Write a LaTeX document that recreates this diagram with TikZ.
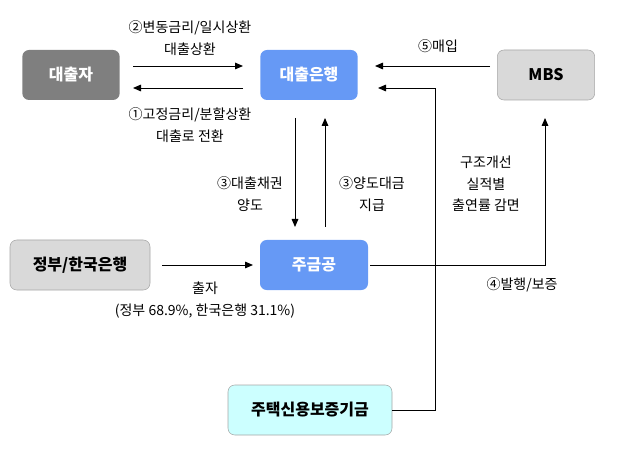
\documentclass[tikz,border=0pt]{standalone}
\usepackage{fontspec}
\setmainfont{Noto Sans CJK KR}
\usetikzlibrary{arrows.meta}
\definecolor{darkbox}{HTML}{7F7F7F}
\definecolor{bluebox}{HTML}{6699F5}
\definecolor{greybox}{HTML}{D9D9D9}
\definecolor{cyanbox}{HTML}{CCFFFF}
\tikzset{
  box/.style={rounded corners=5pt, minimum height=37.5pt, font=\bfseries\fontsize{12}{14}\selectfont, inner sep=2pt},
  lbl/.style={font=\fontsize{10.5}{16}\selectfont, align=center},
  flow/.style={-{Triangle[length=6pt,width=5pt]}, line width=0.7pt},
}
\begin{document}
\begin{tikzpicture}[x=0.75pt,y=-0.75pt]
  \useasboundingbox (0,0) rectangle (620,459);
	\node[box, fill=darkbox, text=white, minimum width=73pt]	(borrower)	at (71,75)	{대출자};
	\node[box, fill=bluebox, text=white, minimum width=73pt]	(bank)	at (309,75)	{대출은행};
	\node[box, fill=greybox, draw=gray!70, minimum width=73pt]	(mbs)	at (546,75)	{MBS};
	\node[box, fill=greybox, draw=gray!70, minimum width=105pt]	(gov)	at (80,265)	{정부/한국은행};
	\node[box, fill=bluebox, text=white, minimum width=81pt]	(hf)	at (314,265)	{주금공};
	\node[box, fill=cyanbox, draw=gray!70, minimum width=123pt]	(fund)	at (310,410)	{주택신용보증기금};

	\coordinate (b1) at (133,66);
	\coordinate (b2) at (243,66);
	\coordinate (b3) at (133,88);
	\coordinate (b4) at (243,88);
	\draw[flow] (b1) -- (b2);
	\draw[flow] (b4) -- (b3);
	\node[lbl] (l2) at (190,38) {②변동금리/일시상환\\대출상환};
	\node[lbl] (l1) at (190,125) {①고정금리/분할상환\\대출로 전환};

	\draw[flow] (490,66) -- (375,66);
	\node[lbl] (l5) at (438,46) {⑤매입};

	\draw[flow] (295,118) -- (295,227);
	\draw[flow] (325,227) -- (325,118);
	\node[lbl] (l3a) at (250,194) {③대출채권\\양도};
	\node[lbl] (l3b) at (372,194) {③양도대금\\지급};

	\draw[flow] (gov.east) ++(12,0) -- (253,265);
	\node[lbl] (l6) at (205,300) {출자\\(정부 68.9\%, 한국은행 31.1\%)};

	\draw[flow] (370,265) -| (545,118);
	\node[lbl] (l4) at (522,285) {④발행/보증};

	\draw[flow] (fund.east) -| (435,88) -- (378,88);
	\node[lbl] (l7) at (486,184) {구조개선\\실적별\\출연률 감면};
\end{tikzpicture}
\end{document}
